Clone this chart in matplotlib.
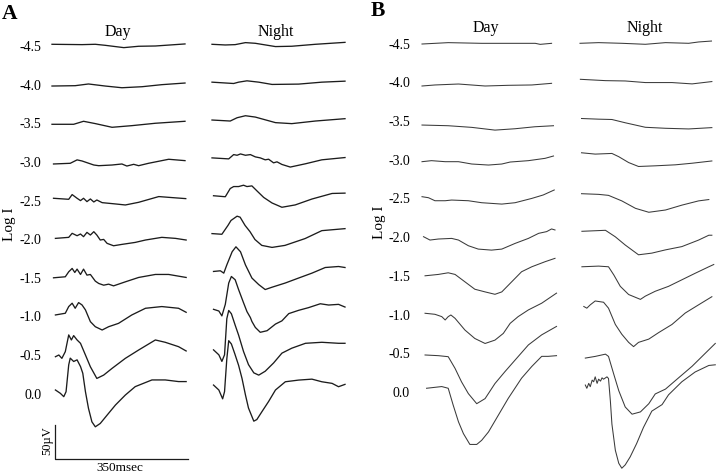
import matplotlib
matplotlib.use("Agg")
import matplotlib.pyplot as plt

# ---------------- data (time in ms, response in µV) ----------------
LEVELS = ["-4.5", "-4.0", "-3.5", "-3.0", "-2.5", "-2.0", "-1.5", "-1.0", "-0.5", "0.0"]

A_DAY = {
    "-4.5": ([0, 79, 114, 140, 189, 228, 272, 350], [0, -0.5, 0, -1.5, -4.9, -2.9, -2.5, 0.5]),
    "-4.0": ([0, 61, 96, 140, 184, 237, 289, 350], [0, 0.5, 3, 0, -2.5, -1, 2, 4.4]),
    "-3.5": ([0, 57, 83, 114, 158, 210, 272, 350], [0, 0, 4.4, 1, -4.4, -2, 1.5, 4.4]),
    "-3.0": ([4, 48, 66, 79, 110, 123, 158, 184, 197, 215, 228, 254, 307, 350],
             [0, 1, 6, 4.4, -1.5, -2.5, -1.5, 0, -3, -0.5, -2.5, 1, 6.9, 4.9]),
    "-2.5": ([4, 44, 53, 66, 75, 83, 92, 101, 110, 118, 132, 167, 193, 228, 281, 316, 352],
             [0, -1.5, 5.4, 0, -3.4, 0, -4.9, -1, -5.4, -2.5, -6.4, -8.3, -9.8, -5.9, 2.5, 1, -0.5]),
    "-2.0": ([9, 44, 53, 66, 75, 83, 92, 101, 110, 118, 127, 136, 145, 162, 184, 219, 246, 289, 325, 353],
             [-1, 0.5, 6.4, 2.9, 5.4, 1.5, 7.8, 3.9, 8.8, 3.9, -3.4, -2.5, -8.3, -11.8, -9.8, -6.9, -3.4, 0.5, -1, -3.4]),
    "-1.5": ([4, 35, 44, 53, 60, 66, 75, 83, 92, 101, 114, 123, 136, 149, 162, 193, 228, 272, 307, 353],
             [0, 1.5, 8.8, 13.7, 7.8, 12.7, 4.9, 12.7, 3.9, 4.9, -4.9, -8.3, -10.8, -9.3, -11.8, -5.9, 0.5, 4.9, 4.9, 0.5]),
    "-1.0": ([9, 35, 44, 53, 61, 70, 79, 88, 101, 114, 132, 149, 175, 210, 246, 289, 333, 353],
             [0, 2.5, 12.3, 17.2, 9.8, 18.1, 14.7, 7.4, -9.8, -17.2, -22, -17.2, -12.3, 0, 9.8, 12.3, 9.8, 3.9]),
    "-0.5": ([9, 18, 26, 35, 44, 51, 57, 66, 75, 88, 101, 118, 136, 158, 193, 228, 272, 298, 333, 353],
             [-1, 1.5, -3.4, 6.4, 30.9, 23.5, 29.9, 23.5, 18.6, 1.5, -15.7, -32.8, -27.9, -18.1, -3.4, 8.8, 23.5, 20.1, 13.7, 7.4]),
    "0.0": ([9, 22, 31, 37, 44, 48, 57, 66, 75, 81, 88, 96, 105, 114, 127, 145, 167, 193, 219, 263, 298, 333, 353],
            [0, -4.9, -9.8, -2.5, 36.8, 46.6, 41.7, 44.1, 34.3, 24.5, -2.5, -26.9, -46.6, -53.9, -49, -36.8, -22, -7.4, 4.9, 14.7, 14.7, 12.3, 12.3]),
}

A_NIGHT = {
    "-4.5": ([0, 35, 61, 88, 114, 167, 210, 272, 350], [0, -1, -0.5, 2.5, 1.5, -3.4, -2.9, 0, 2.9]),
    "-4.0": ([0, 57, 70, 92, 123, 158, 228, 289, 350], [0, -2, 0, 2, 0, -3.4, -2.9, 0, 1.5]),
    "-3.5": ([0, 48, 66, 88, 114, 167, 210, 272, 350], [0, -1.5, 3.4, 6.4, 4.4, -3.9, -5.4, -1.5, 2]),
    "-3.0": ([0, 44, 57, 66, 75, 88, 101, 114, 127, 140, 149, 162, 171, 184, 206, 246, 289, 350],
             [0, -1.5, 4.9, 3.9, 5.9, 3.9, 4.9, 1.5, 0, -2.9, -2, -7.4, -5.9, -9.8, -13.7, -8.8, -2.9, 0.5]),
    "-2.5": ([4, 35, 48, 57, 70, 83, 92, 105, 118, 136, 145, 158, 184, 219, 263, 316, 350],
             [0, -1.5, 10.8, 13.7, 13.7, 15.7, 13.7, 14.7, 7.4, -2.5, -5.9, -10.8, -17.2, -13.7, -4.9, 3.4, 3.9]),
    "-2.0": ([0, 26, 42, 50, 66, 74, 87, 100, 113, 131, 158, 192, 245, 289, 350],
             [0, -1, 12.2, 19.6, 26, 24.5, 12.2, 2.9, -8.8, -17.6, -20.6, -17.6, -7.4, 4.4, 7.4]),
    "-1.5": ([4, 22, 31, 39, 53, 63, 75, 88, 105, 123, 140, 158, 193, 228, 263, 298, 333, 350],
             [0, 1, -2.5, 9.8, 29.4, 36.8, 29.4, 9.8, -9.8, -19.6, -27, -23.5, -17.2, -9.8, -2.5, 5.9, 7.4, 5.9]),
    "-1.0": ([4, 18, 26, 35, 44, 51, 61, 70, 83, 92, 101, 105, 114, 127, 145, 167, 184, 202, 228, 254, 285, 307, 333, 350],
             [0, -2.5, -9.8, 7.4, 39.2, 49, 44.1, 29.4, 9.8, -3.4, -12.3, -18.1, -27, -34.3, -31.9, -22, -17.2, -6.4, -1.5, 2.5, 8.3, 6.4, 7.4, 3.4]),
    "-0.5": ([4, 18, 26, 33, 39, 44, 51, 61, 70, 83, 96, 110, 123, 140, 162, 184, 210, 246, 289, 333, 350],
             [0, -7.4, -17.2, -7.4, 46.6, 58.8, 53.9, 36.8, 22, -2.5, -22, -34.3, -37.7, -31.9, -19.6, -4.9, 2.5, 9.8, 11.3, 9.8, 9.8]),
    "0.0": ([4, 18, 28, 33, 39, 44, 51, 60, 70, 79, 88, 96, 110, 118, 132, 149, 167, 193, 228, 263, 289, 316, 333, 350],
            [0, -7.4, -20.6, -9.8, 39.2, 66.2, 61.3, 46.6, 29.4, 9.8, -14.7, -34.3, -53.9, -51.5, -39.2, -24.5, -7.4, 4.9, 7.4, 8.8, 4.9, 2.5, -2.5, 1]),
}

B_DAY = {
    "-4.5": ([0, 69, 157, 245, 298, 311, 341], [0, 2, 1, 1, 1, -0.5, 1]),
    "-4.0": ([0, 34, 96, 166, 227, 289, 341], [0, 1.5, 2.9, 0, 1, 1.5, 3.9]),
    "-3.5": ([0, 69, 131, 192, 245, 297, 346], [0, -1, -3.4, -7.4, -5.4, -2.5, -1]),
    "-3.0": ([0, 25, 61, 96, 131, 175, 210, 232, 280, 324, 346],
             [0, 1.5, 0, 0, -3.4, -4.9, -3.4, -0.5, 1.5, 4.9, 8.3]),
    "-2.5": ([0, 17, 34, 61, 78, 122, 157, 210, 245, 289, 319, 348],
             [0, -1.5, -5.9, -5.9, -4.9, -5.9, -8.8, -10.8, -8.8, -2.5, 2.5, 9.8]),
    "-2.0": ([4, 21, 43, 78, 96, 122, 148, 183, 210, 245, 280, 307, 328, 341, 350],
             [0, -4.9, -3.4, -2.5, -4.9, -13.2, -18.1, -19.6, -18.1, -9.8, -2.5, 4.9, 7.4, 11.3, 9.8]),
    "-1.5": ([8, 43, 69, 87, 113, 139, 166, 192, 210, 236, 262, 289, 324, 350],
             [0, 2, 4.4, 2, -8.8, -19.6, -23.5, -27, -23.5, -8.8, 5.9, 13.2, 20.6, 25.5]),
    "-1.0": ([8, 34, 52, 61, 69, 76, 87, 113, 139, 166, 192, 214, 232, 253, 280, 315, 354],
             [0, -1.5, -4.9, -9.8, -4.9, -2.5, -7.4, -24.5, -36.8, -44.1, -39.2, -29.4, -14.7, -4.9, 4.9, 14.7, 29.4]),
    "-0.5": ([8, 43, 69, 87, 104, 122, 144, 166, 192, 218, 245, 280, 315, 354],
             [0, -1, -2.5, -19.6, -39.2, -56.4, -71.1, -63.7, -41.7, -24.5, -7.4, 14.7, 29.4, 41.7]),
    "0.0": ([12, 52, 69, 82, 96, 109, 126, 144, 157, 175, 201, 227, 262, 289, 315, 332, 354],
            [0, 2.5, 0, -24.5, -49, -66.2, -82, -82, -76, -63.7, -39.2, -14.7, 14.7, 31.9, 46.6, 46.6, 47.6]),
}

B_NIGHT = {
    "-4.5": ([0, 49, 110, 172, 225, 286, 312, 346], [0, 1, 0, -1.5, 1, 0, 2, 3.4]),
    "-4.0": ([1, 67, 119, 172, 242, 295, 347], [0, -2, -2.5, -4.9, -4.9, -6.9, -3.4]),
    "-3.5": ([4, 49, 84, 119, 172, 225, 286, 347], [0, -1, -1.5, -6.4, -13.2, -14.7, -15.7, -13.7]),
    "-3.0": ([4, 40, 84, 102, 128, 154, 198, 251, 295, 347],
             [0, -2, -1, -5.9, -14.7, -20.6, -19.6, -18.1, -15.7, -12.3]),
    "-2.5": ([4, 49, 75, 110, 146, 181, 225, 268, 312, 339],
             [0, -1, -2.5, -10.8, -22, -27.9, -24.5, -17.2, -10.8, -8.8]),
    "-2.0": ([5, 67, 93, 119, 154, 189, 225, 268, 312, 339, 347],
             [0, 1.5, -8.3, -20.6, -35.3, -32.8, -27.9, -23, -13.2, -5.9, -5.9]),
    "-1.5": ([5, 49, 75, 89, 106, 128, 159, 172, 198, 233, 268, 303, 339, 352],
             [0, 1, 0, -12.3, -29.4, -41.7, -49, -44.1, -36.8, -29.4, -19.6, -9.8, 0, 3.4]),
    "-1.0": ([10, 18, 27, 40, 62, 75, 93, 110, 128, 141, 154, 181, 207, 242, 277, 312, 347],
             [0, -2.5, 2.5, 8.3, 6.4, -2.5, -27, -41.7, -53.9, -60.3, -53.9, -49, -39.2, -27, -9.8, 2.5, 14.7]),
    "-0.5": ([14, 40, 67, 75, 89, 102, 119, 137, 159, 181, 198, 225, 260, 295, 330, 356],
             [0, 2.5, 5.9, 2.5, -24.5, -49, -73.5, -84.3, -80.9, -68.6, -53.9, -46.6, -29.4, -12.3, 7.4, 22]),
    "0.0": ([14, 18, 23, 27, 32, 36, 40, 45, 49, 54, 58, 62, 71, 75, 80, 84, 93, 102, 110, 119, 132, 149, 167, 189, 216, 233, 268, 303, 339, 356],
            [0, -4.9, 2.5, -2.5, 7.4, 4.9, 12.3, 2.5, 8.8, 5.9, 10.8, 8.8, 12.3, 9.8, -24.5, -58.8, -98, -117.6, -125, -120, -108, -88, -63.7, -39.2, -29.4, -14.7, 4.9, 19.6, 29.4, 30.4]),
}

# baseline deviation of each recorded trace from its nominal row (µV), order as LEVELS
A_DAY_SHIFT = [2.8, -1.8, -1.3, -2.9, 3.4, 2.2, 0, 2.1, -1.5, 5.3]
A_NIGHT_SHIFT = [0, 0, 0, 0, 0, 0, 0, 0, -4, 0]
B_DAY_SHIFT = [-0.6, -5.4, -5.9, -2.9, 2.5, 0.6, 0, 1.8, -2.6, 5.3]
B_NIGHT_SHIFT = [0, 2.4, 0, 5, 0, 0, 3.2, 0, -21, -5]

SCALE_UV = 50
SCALE_MS = 350

# ---------------- layout ----------------
W, H = 720, 476
ROW_STEP = 56.5            # µV between adjacent intensity rows
PX_PER_MS = 133 / 350
T_LO, T_HI = -12, 372

plt.rcParams['font.family'] = ['Liberation Serif', 'DejaVu Serif']
fig = plt.figure(figsize=(W / 100, H / 100), dpi=100)
fig.patch.set_facecolor('white')

n = len(LEVELS)
offsets = [(n - 1 - i) * ROW_STEP for i in range(n)]


def make_axes(x0, row_top, spacing):
    ppu = spacing / ROW_STEP
    left = x0 + T_LO * PX_PER_MS
    width = (T_HI - T_LO) * PX_PER_MS
    ax = fig.add_axes([left / W, 0, width / W, 1])
    top_off = offsets[0]
    ax.set_xlim(T_LO, T_HI)
    ax.set_ylim(top_off - (H - row_top) / ppu, top_off + row_top / ppu)
    ax.patch.set_alpha(0)
    for s in ax.spines.values():
        s.set_visible(False)
    ax.set_xticks([])
    ax.set_yticks([])
    return ax


def draw(ax, data, shifts, color, lw):
    for i, lev in enumerate(LEVELS):
        t, v = data[lev]
        ax.plot(t, [val + offsets[i] + shifts[i] for val in v], color=color, lw=lw,
                solid_joinstyle='round')


def label_rows(ax, pad):
    ax.set_yticks(offsets)
    ax.set_yticklabels(LEVELS)
    ax.tick_params(axis='y', length=0, pad=pad, labelsize=10)


ax_ad = make_axes(52, 46.2, 38.6)
ax_an = make_axes(212, 44.3, 37.86)
ax_bd = make_axes(422, 43.6, 38.7)
ax_bn = make_axes(580, 43.3, 37.6)

draw(ax_ad, A_DAY, A_DAY_SHIFT, '#1c1c1c', 0.95)
draw(ax_an, A_NIGHT, A_NIGHT_SHIFT, '#1c1c1c', 0.95)
draw(ax_bd, B_DAY, B_DAY_SHIFT, '#3a3a3a', 0.75)
draw(ax_bn, B_NIGHT, B_NIGHT_SHIFT, '#3a3a3a', 0.75)

label_rows(ax_ad, 4.1)
label_rows(ax_bd, 5.3)

# scale bar in panel A (day axes)
sb_t0, sb_v0 = 8, -96
ax_ad.plot([sb_t0, sb_t0, sb_t0 + SCALE_MS], [sb_v0 + SCALE_UV, sb_v0, sb_v0],
           color='#1c1c1c', lw=0.9, clip_on=False)


def ftext(x, y, s, **kw):
    fig.text(x / W, 1 - y / H, s, **kw)


ftext(119.5, 468, "350msec", ha='center', va='center', fontsize=9.5)
ftext(47.5, 441, "50µV", ha='center', va='center', fontsize=9, rotation=90)

ftext(9.5, 14, "A", ha='center', va='center', fontsize=15.5, fontweight='bold')
ftext(377.5, 10.5, "B", ha='center', va='center', fontsize=15.5, fontweight='bold')

ftext(117.5, 35.5, "Day", ha='center', va='baseline', fontsize=11.5)
ftext(276, 35.5, "Night", ha='center', va='baseline', fontsize=11.5)
ftext(485.5, 32, "Day", ha='center', va='baseline', fontsize=11.5)
ftext(644.5, 32, "Night", ha='center', va='baseline', fontsize=11.5)

ftext(9.5, 224, "Log I", ha='center', va='center', fontsize=11, rotation=90)
ftext(380, 222, "Log I", ha='center', va='center', fontsize=11, rotation=90)

fig.savefig("out.png", dpi=100, facecolor='white')
